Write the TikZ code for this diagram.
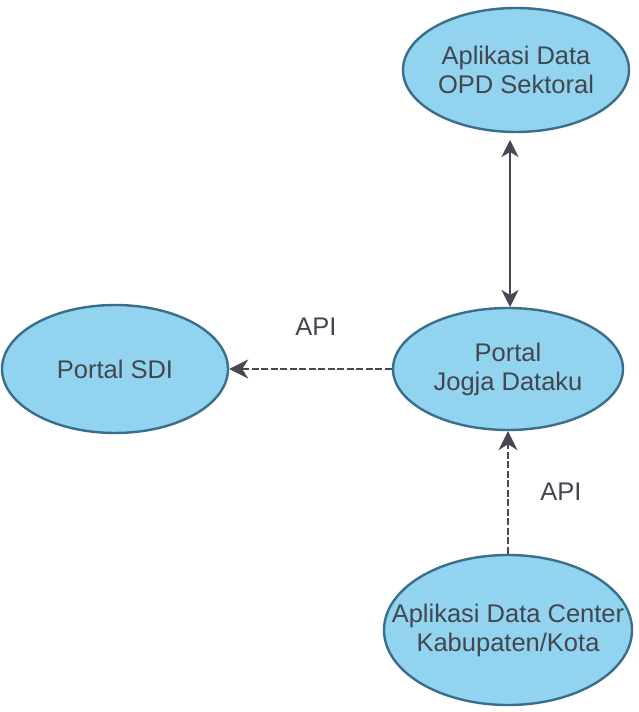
\documentclass[tikz,border=0pt]{standalone}
\usepackage{fontspec}
\setmainfont{Liberation Sans}
\usetikzlibrary{shapes.geometric,arrows.meta}
\definecolor{ellfill}{RGB}{146,211,240}
\definecolor{elldraw}{RGB}{58,110,140}
\definecolor{txt}{RGB}{66,70,78}
\definecolor{arr}{RGB}{72,72,82}
\begin{document}
\begin{tikzpicture}[x=1pt,y=1pt,
  ell/.style={ellipse, draw=elldraw, fill=ellfill, line width=2.4pt, inner sep=0pt},
  lbl/.style={text=txt, align=center, font=\fontsize{25.5}{29}\selectfont},
  solidarr/.style={arr, line width=2pt, {Stealth[length=17pt,width=17pt,inset=5pt]}-{Stealth[length=17pt,width=17pt,inset=5pt]}},
  dasharr/.style={arr, line width=2.6pt, dash pattern=on 7pt off 2.5pt, -{Stealth[length=19pt,width=19pt,inset=6pt]}}
]
\useasboundingbox (0,0) rectangle (638,712);
\node[ell, minimum width=226, minimum height=124] (top) at (516,642) {};
\node[ell, minimum width=230, minimum height=122] (mid) at (508,343) {};
\node[ell, minimum width=226, minimum height=128] (sdi) at (115,343) {};
\node[ell, minimum width=248, minimum height=150] (bot) at (508,82) {};
\node[lbl] (topT) at (top) {Aplikasi Data\\OPD Sektoral};
\node[lbl] (midT) at (mid) {Portal\\Jogja Dataku};
\node[lbl] (sdiT) at (sdi) {Portal SDI};
\node[lbl] (botT) at (bot) {Aplikasi Data Center\\Kabupaten/Kota};
\coordinate (tb) at (510,572);
\coordinate (mt) at (510,405);
\draw[solidarr] (tb) -- (mt);
\draw[dasharr] (mid.west) -- (sdi.east);
\draw[dasharr] (bot.north) -- (mid.south);
\node[lbl] (api1) at (316,385) {API};
\node[lbl] (api2) at (561,220) {API};
\end{tikzpicture}
\end{document}
